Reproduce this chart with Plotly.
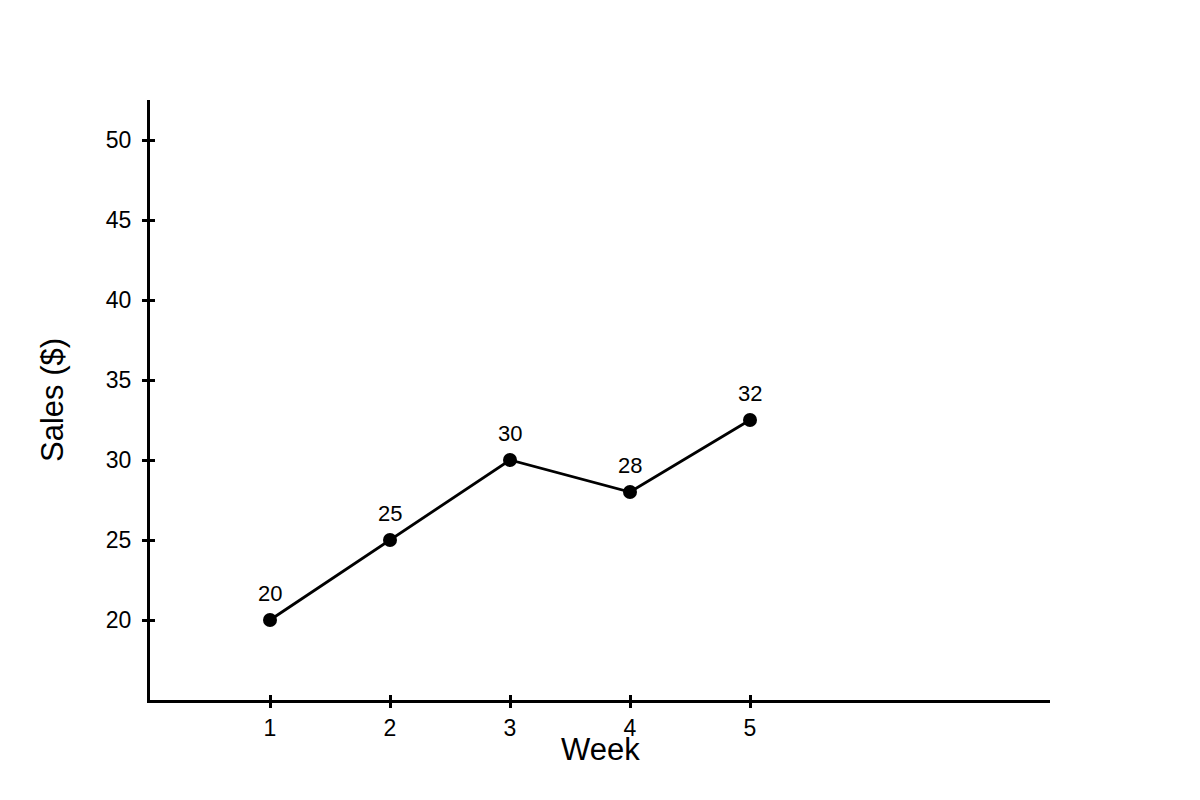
import plotly.graph_objects as go

weeks = [1, 2, 3, 4, 5]
sales = [20, 25, 30, 28, 32.5]
point_labels = ["20", "25", "30", "28", "32"]
y_ticks = [20, 25, 30, 35, 40, 45, 50]

FONT = "Liberation Sans, Arial, sans-serif"

fig = go.Figure()
fig.add_trace(go.Scatter(
    x=weeks, y=sales, mode="lines+markers",
    line=dict(color="black", width=2.8),
    marker=dict(color="black", size=14),
    cliponaxis=False, showlegend=False,
))
# invisible trace on overlay axes to draw the inner half of each tick
fig.add_trace(go.Scatter(x=weeks, y=sales, xaxis="x2", yaxis="y2",
                         mode="markers", marker=dict(opacity=0),
                         hoverinfo="skip", showlegend=False))

# value labels above each point
for w, s, lab in zip(weeks, sales, point_labels):
    fig.add_annotation(x=w, y=s, text=lab, showarrow=False, yshift=27,
                       font=dict(size=22, color="black", family=FONT))

axis_common = dict(showgrid=False, zeroline=False, showline=True,
                   linecolor="black", linewidth=3, ticks="outside",
                   ticklen=5, tickwidth=2.5, tickcolor="black",
                   tickfont=dict(size=23, color="black", family=FONT))
inner_ticks = dict(showgrid=False, zeroline=False, ticks="inside", ticklen=5,
                   tickwidth=2.5, tickcolor="black", showticklabels=False)

fig.update_layout(
    width=1200, height=800,
    paper_bgcolor="white", plot_bgcolor="white",
    # page body adds an 8px offset, so the margins are shifted to compensate
    margin=dict(l=142, r=158, t=92, b=108),
    xaxis=dict(range=[0, 7.5], tickvals=weeks, **axis_common),
    yaxis=dict(range=[15, 52.5], tickvals=y_ticks, ticklabelstandoff=6,
               **axis_common),
    xaxis2=dict(range=[0, 7.5], tickvals=weeks, overlaying="x",
                side="bottom", anchor="y2", **inner_ticks),
    yaxis2=dict(range=[15, 52.5], tickvals=y_ticks, overlaying="y",
                side="left", anchor="x2", **inner_ticks),
    annotations=list(fig.layout.annotations) + [
        dict(text="Week", xref="paper", yref="paper", x=0.5, y=0,
             yanchor="middle", yshift=-49, showarrow=False,
             font=dict(size=31, color="black", family=FONT)),
        dict(text="Sales ($)", xref="paper", yref="paper", x=0, y=0.5,
             xanchor="center", xshift=-98, textangle=-90, showarrow=False,
             font=dict(size=31, color="black", family=FONT)),
    ],
)

fig.write_html("out.html")
